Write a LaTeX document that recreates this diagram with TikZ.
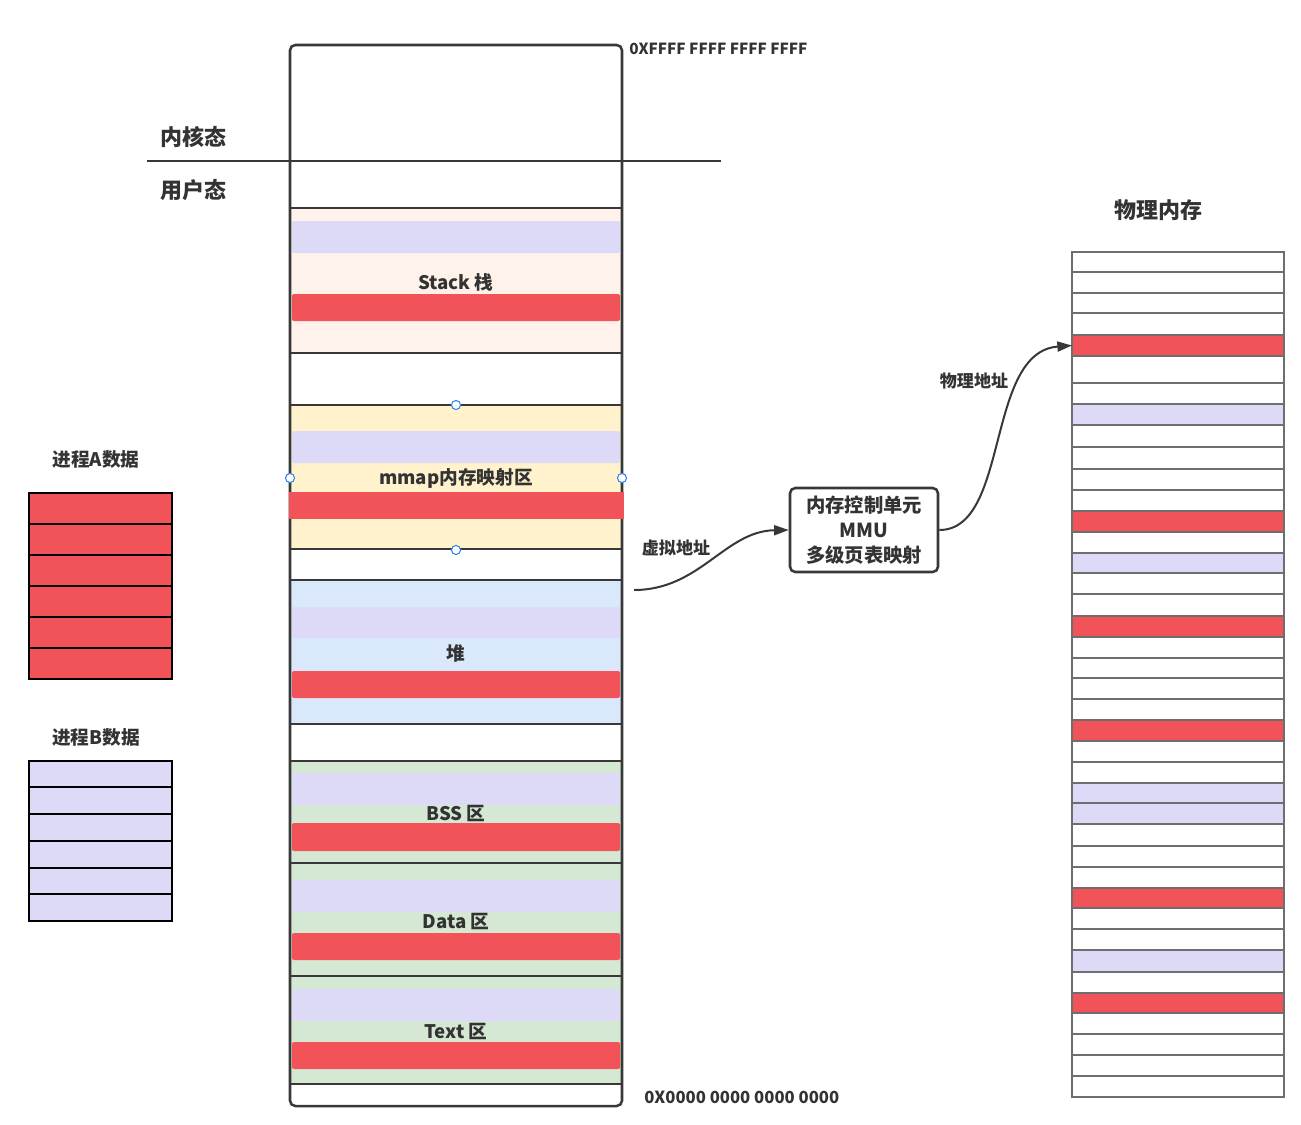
\documentclass[tikz,border=0pt]{standalone}
\usepackage{fontspec}
\setmainfont{Noto Sans CJK SC}
\usetikzlibrary{arrows.meta}
\definecolor{txt}{HTML}{333333}
\definecolor{redc}{HTML}{F15359}
\definecolor{lav}{HTML}{DDDAF8}
\definecolor{peach}{HTML}{FEF2EB}
\definecolor{yel}{HTML}{FFF2CC}
\definecolor{blu}{HTML}{DAE8FC}
\definecolor{grn}{HTML}{D5E8D4}
\definecolor{outl}{HTML}{383838}
\definecolor{pgray}{HTML}{6E6E6E}
\definecolor{hblue}{HTML}{2F86E8}
\begin{document}
\begin{tikzpicture}[x=0.75pt,y=-0.75pt,
  sec/.style={font=\bfseries\fontsize{14}{16}\selectfont, text=txt, inner sep=0pt},
  big/.style={font=\bfseries\fontsize{16.5}{18}\selectfont, text=txt, inner sep=0pt},
  small/.style={font=\bfseries\fontsize{12.8}{14}\selectfont, text=txt, inner sep=0pt},
  addr/.style={font=\bfseries\fontsize{11.5}{13}\selectfont, text=txt, inner sep=0pt, anchor=west},
  outline/.style={draw=outl, line width=1.9pt},
  band/.style={rounded corners=1.5pt},
  handle/.style={draw=hblue, fill=white, line width=0.8pt},
  conn/.style={draw=outl, line width=1.5pt, -{Triangle[length=11pt,width=7.5pt]}},
  pline/.style={draw=pgray, line width=1.5pt},
  blk/.style={draw=black, line width=1.9pt}
]
\useasboundingbox (0,0) rectangle (1301,1124);

% ---------- virtual address space ----------
\fill[peach] (290,208) rectangle (622,353);
\fill[yel]   (290,405) rectangle (622,549);
\fill[blu]   (290,580) rectangle (622,724);
\fill[grn]   (290,761) rectangle (622,1084);

% lavender bands
\foreach \a/\b in {221/253, 431/463, 607/638, 773/805, 880/912, 989/1021}
  \fill[lav, band] (292,\a) rectangle (620,\b);
% red bands
\foreach \a/\b in {294/321, 671/698, 823/851, 933/960, 1042/1069}
  \fill[redc, band] (292,\a) rectangle (620,\b);

% section borders
\foreach \y in {208,353,405,549,580,724,761,863,976,1084}
  \draw[outline] (290,\y) -- (622,\y);
\draw[outline, rounded corners=4pt] (290,45) rectangle (622,1106);
% mmap red band covers the border
\fill[redc] (288.5,492) rectangle (623.5,519);

% kernel / user line
\draw[draw=outl, line width=1.5pt] (147,161) -- (721,161);
\node[big] (kern) at (193,137) {内核态};
\node[big] (user) at (193,190) {用户态};

% section labels
\node[sec] (stack) at (456,282) {Stack 栈};
\node[sec] (mmap)  at (456,478) {mmap内存映射区};
\node[sec] (heap)  at (456,653) {堆};
\node[sec] (bss)   at (456,813) {BSS 区};
\node[sec] (data)  at (456,921) {Data 区};
\node[sec] (text)  at (456,1031) {Text 区};

% address labels
\node[addr] (hi) at (629,49) {0XFFFF FFFF FFFF FFFF};
\node[addr, font=\bfseries\fontsize{12.5}{14}\selectfont] (lo) at (644,1097) {0X0000 0000 0000 0000};

% selection handles
\foreach \p in {(456,405),(290,478),(622,478),(456,550)}
  \draw[handle] \p circle[radius=3.4pt];

% ---------- process data boxes ----------
\node[sec] (pa) at (96,459) {进程A数据};
\fill[redc] (29,493) rectangle (172,679);
\foreach \y in {524,555,586,617,648}
  \draw[blk] (29,\y) -- (172,\y);
\draw[blk] (29,493) rectangle (172,679);

\node[sec] (pb) at (96,737) {进程B数据};
\fill[lav] (29,761) rectangle (172,921);
\foreach \y in {787,814,841,868,894}
  \draw[blk] (29,\y) -- (172,\y);
\draw[blk] (29,761) rectangle (172,921);

% ---------- MMU ----------
\node[draw=outl, line width=1.9pt, rounded corners=4pt, minimum width=148*0.75pt, minimum height=84*0.75pt,
      inner sep=0pt, align=center, font=\bfseries\fontsize{14.5}{18.5}\selectfont, text=txt]
  (mmu) at (864,530) {内存控制单元\\MMU\\多级页表映射};

\coordinate (va) at (634,590);
\draw[conn] (va) .. controls (700,590) and (725,531) .. (mmu.west);
\node[small] (valbl) at (676,548) {虚拟地址};

% ---------- physical memory ----------
\node[big] (phys) at (1158,210) {物理内存};
\foreach \a/\b in {335/356, 510.7/532, 615.7/636.7, 720/740.7, 887.7/908.3, 992.7/1013.3}
  \fill[redc] (1072,\a) rectangle (1284,\b);
\foreach \a/\b in {404/425, 553.3/573.3, 782.7/803.3, 803.3/824.3, 950/971.7}
  \fill[lav] (1072,\a) rectangle (1284,\b);
\foreach \y in {272.3,292.7,313.3,335,356,383.3,404,425,446.7,469.3,490,510.7,532,553.3,573.3,594.3,615.7,636.7,657.7,678.3,699.3,720,740.7,761.7,782.7,803.3,824.3,845.7,866.7,887.7,908.3,929.3,950,971.7,992.7,1013.3,1034.3,1055,1076}
  \draw[pline] (1072,\y) -- (1284,\y);
\draw[pline] (1072,251.7) rectangle (1284,1097.3);

\coordinate (pr) at (1072,345.5);
\draw[conn] (mmu.east) .. controls (1010,530) and (985,352) .. (pr);
\node[small] (palbl) at (974,381) {物理地址};
\end{tikzpicture}
\end{document}
